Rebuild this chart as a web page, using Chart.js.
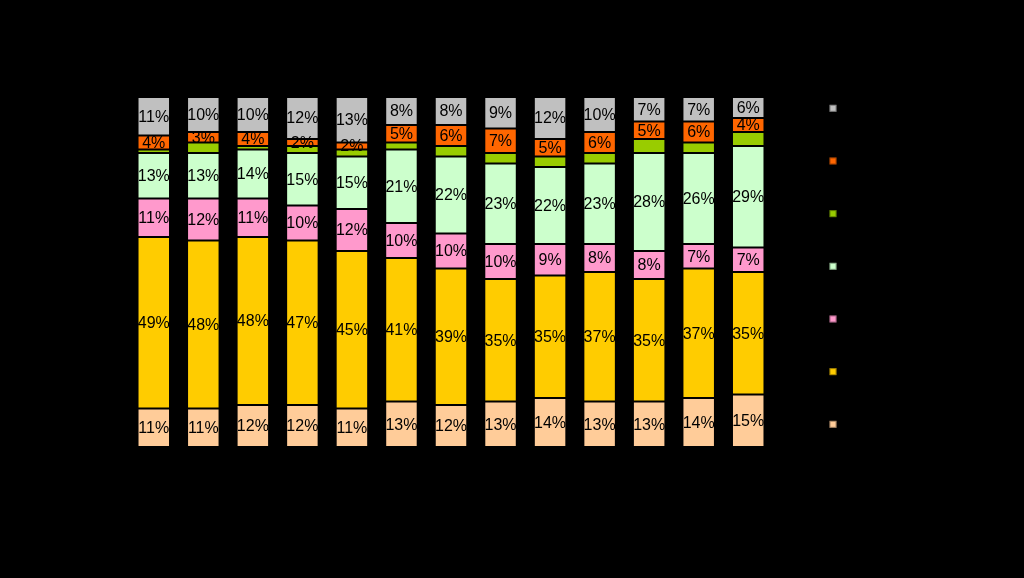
<!DOCTYPE html>
<html>
<head>
<meta charset="utf-8">
<script src="https://cdn.jsdelivr.net/npm/chart.js@4"></script>
<style>
  body { margin: 0; background: #000; }
  #wrap { width: 1024px; height: 578px; position: relative; }
</style>
</head>
<body>
<div id="wrap"><canvas id="chart"></canvas></div>
<script>
// 13 columns, series listed bottom to top
const categories = ["1", "2", "3", "4", "5", "6", "7", "8", "9", "10", "11", "12", "13"];

const peach     = [11, 11, 12, 12, 11, 13, 12, 13, 14, 13, 13, 14, 15];
const yellow    = [49, 48, 48, 47, 45, 41, 39, 35, 35, 37, 35, 37, 35];
const pink      = [11, 12, 11, 10, 12, 10, 10, 10, 9, 8, 8, 7, 7];
const lightGreen = [13, 13, 14, 15, 15, 21, 22, 23, 22, 23, 28, 26, 29];
const green     = [1, 3, 1, 2, 2, 2, 3, 3, 3, 3, 4, 3, 4];
const orange    = [4, 3, 4, 2, 2, 5, 6, 7, 5, 6, 5, 6, 4];
const gray      = [11, 10, 10, 12, 13, 8, 8, 9, 12, 10, 7, 7, 6];

const seriesValues = [peach, yellow, pink, lightGreen, green, orange, gray];
const seriesColors = ["#FFCC99", "#FFCC00", "#FF99CC", "#CCFFCC", "#99CC00", "#FF6600", "#C0C0C0"];
const showLabels = [true, true, true, true, false, true, true];

const datasets = seriesValues.map((values, i) => ({
    label: "",
    data: values,
    backgroundColor: seriesColors[i],
    borderColor: "#000",
    borderWidth: 1,
    borderSkipped: false,
    barPercentage: 0.656,
    categoryPercentage: 1
}));

// percent labels in the middle of each segment
const segmentLabels = {
    id: "segmentLabels",
    afterDatasetsDraw(chart) {
        const ctx = chart.ctx;
        ctx.save();
        ctx.font = "16px 'Liberation Sans', Arial, sans-serif";
        ctx.fillStyle = "#000";
        ctx.textAlign = "center";
        ctx.textBaseline = "middle";
        chart.data.datasets.forEach((ds, i) => {
            if (!showLabels[i]) return;
            chart.getDatasetMeta(i).data.forEach((bar, j) => {
                const y = (bar.y + bar.base) / 2;
                ctx.fillText(ds.data[j] + "%", bar.x, y + 1);
            });
        });
        ctx.restore();
    }
};

// legend squares on the right, top series first (text is black on black in the original)
const legendSquares = {
    id: "legendSquares",
    afterDraw(chart) {
        const ctx = chart.ctx;
        const x = 829.5;
        const size = 7;
        const step = 52.67;
        ctx.save();
        for (let k = 0; k < seriesColors.length; k++) {
            const idx = seriesColors.length - 1 - k;
            const cy = 108.3 + k * step;
            ctx.fillStyle = seriesColors[idx];
            ctx.fillRect(x, cy - size / 2, size, size);
            ctx.strokeStyle = "rgba(0,0,0,0.35)";
            ctx.lineWidth = 1;
            ctx.strokeRect(x + 0.5, cy - size / 2 + 0.5, size - 1, size - 1);
        }
        ctx.restore();
    }
};

new Chart(document.getElementById("chart"), {
    type: "bar",
    data: { labels: categories, datasets: datasets },
    options: {
        responsive: true,
        maintainAspectRatio: false,
        animation: false,
        layout: { padding: { left: 129, right: 251, top: 97, bottom: 131 } },
        plugins: {
            legend: { display: false },
            tooltip: { enabled: false }
        },
        scales: {
            x: { stacked: true, display: false, offset: true },
            y: { stacked: true, display: false, min: 0, max: 100 }
        }
    },
    plugins: [segmentLabels, legendSquares]
});
</script>
</body>
</html>
